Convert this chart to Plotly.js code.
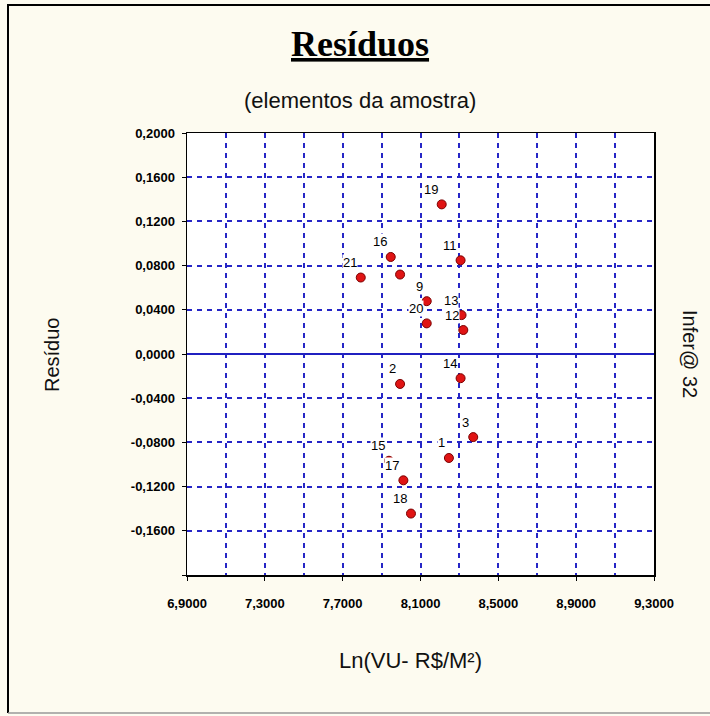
<!DOCTYPE html>
<html>
<head>
<meta charset="utf-8">
<script src="https://cdn.plot.ly/plotly-3.0.1.min.js"></script>
<style>html,body{margin:0;padding:0;background:#fdfbf0;}#chart{width:710px;height:716px;}</style>
</head>
<body>
<div id="chart"></div>
<script>
// Data
const pointLabels = ['19','16','11','21','','9','13','20','12','14','2','3','1','15','17','18'];
const lnVU =        [8.209, 7.947, 8.306, 7.793, 7.995, 8.132, 8.311, 8.132, 8.320, 8.306, 7.995, 8.371, 8.246, 7.938, 8.012, 8.051];
const residuo =     [0.1354, 0.0878, 0.0848, 0.0692, 0.0719, 0.0478, 0.0352, 0.0277, 0.0217, -0.0219, -0.0271, -0.0752, -0.0941, -0.0966, -0.1143, -0.1444];

const xTickVals = [6.9, 7.3, 7.7, 8.1, 8.5, 8.9, 9.3];
const xTickText = ['6,9000','7,3000','7,7000','8,1000','8,5000','8,9000','9,3000'];
const xMinorVals = [7.1, 7.5, 7.9, 8.3, 8.7, 9.1];
const yTickVals = [-0.2, -0.16, -0.12, -0.08, -0.04, 0, 0.04, 0.08, 0.12, 0.16, 0.2];
const yTickText = ['', '-0,1600', '-0,1200', '-0,0800', '-0,0400', '0,0000', '0,0400', '0,0800', '0,1200', '0,1600', '0,2000'];

const W = 710, H = 716;
const M = {l: 187, r: 56, t: 133, b: 141};
const px = v => (v - M.l) / (W - M.l - M.r);
const py = v => 1 - (v - M.t) / (H - M.t - M.b);

const gridColor = '#2626c6';

const trace = {
  x: lnVU, y: residuo, type: 'scatter', mode: 'markers',
  marker: {size: 9, color: '#e01414', line: {color: '#7a0000', width: 1}},
  hoverinfo: 'x+y', showlegend: false
};

const annotations = [];
pointLabels.forEach((t, i) => {
  if (!t) return;
  annotations.push({
    x: lnVU[i], y: residuo[i], xref: 'x', yref: 'y', text: t, showarrow: false,
    xanchor: 'right', yanchor: 'middle', xshift: -3, yshift: 15,
    bgcolor: '#ffffff', borderpad: 0,
    font: {family: 'Liberation Sans, Arial', size: 13, color: '#000'}
  });
});
annotations.push(
  {xref: 'paper', yref: 'paper', x: px(360), y: py(44), text: '<b><u>Resíduos</u></b>', showarrow: false,
   xanchor: 'center', yanchor: 'middle', font: {family: 'Liberation Serif, Times New Roman', size: 36, color: '#000'}},
  {xref: 'paper', yref: 'paper', x: px(360), y: py(100), text: '(elementos da amostra)', showarrow: false,
   xanchor: 'center', yanchor: 'middle', font: {family: 'Liberation Sans, Arial', size: 22, color: '#111'}},
  {xref: 'paper', yref: 'paper', x: px(410), y: py(660), text: 'Ln(VU- R$/M²)', showarrow: false,
   xanchor: 'center', yanchor: 'middle', font: {family: 'Liberation Sans, Arial', size: 22, color: '#111'}},
  {xref: 'paper', yref: 'paper', x: px(52), y: py(355), text: 'Resíduo', showarrow: false, textangle: -90,
   xanchor: 'center', yanchor: 'middle', font: {family: 'Liberation Sans, Arial', size: 20, color: '#111'}},
  {xref: 'paper', yref: 'paper', x: px(690), y: py(354), text: 'Infer@ 32', showarrow: false, textangle: 90,
   xanchor: 'center', yanchor: 'middle', font: {family: 'Liberation Sans, Arial', size: 20, color: '#111'}}
);

const shapes = [
  {type: 'line', xref: 'paper', yref: 'paper', x0: px(8), x1: px(8), y0: py(4), y1: py(713), line: {color: '#000', width: 2}},
  {type: 'line', xref: 'paper', yref: 'paper', x0: px(8), x1: px(710), y0: py(5), y1: py(5), line: {color: '#000', width: 2}},
  {type: 'line', xref: 'paper', yref: 'paper', x0: px(8), x1: px(710), y0: py(713), y1: py(713), line: {color: '#999', width: 1.5}}
];

const layout = {
  width: W, height: H, margin: M,
  paper_bgcolor: '#fdfbf0', plot_bgcolor: '#ffffff',
  showlegend: false,
  xaxis: {
    range: [6.9, 9.3], tickmode: 'array', tickvals: xTickVals, ticktext: xTickText,
    showgrid: true, gridcolor: gridColor, gridwidth: 2, griddash: '5px,5px',
    minor: {tickmode: 'array', tickvals: xMinorVals, showgrid: true, gridcolor: gridColor, gridwidth: 2, griddash: '5px,5px', ticks: ''},
    ticks: 'outside', ticklen: 4, tickcolor: '#000', ticklabelstandoff: 12,
    showline: true, linecolor: '#000', linewidth: 1.5, mirror: true, zeroline: false,
    tickfont: {family: 'Liberation Sans, Arial', size: 13, color: '#000', weight: 'bold'}
  },
  yaxis: {
    range: [-0.2, 0.2], tickmode: 'array', tickvals: yTickVals, ticktext: yTickText,
    showgrid: true, gridcolor: gridColor, gridwidth: 2, griddash: '5px,5px',
    zeroline: true, zerolinecolor: '#2020c0', zerolinewidth: 1.8,
    ticks: 'outside', ticklen: 4, tickcolor: '#000', ticklabelstandoff: 4,
    showline: true, linecolor: '#000', linewidth: 1.5, mirror: true,
    tickfont: {family: 'Liberation Sans, Arial', size: 13, color: '#000', weight: 'bold'}
  },
  annotations: annotations, shapes: shapes
};

Plotly.newPlot('chart', [trace], layout, {displayModeBar: false, staticPlot: true});
</script>
</body>
</html>
